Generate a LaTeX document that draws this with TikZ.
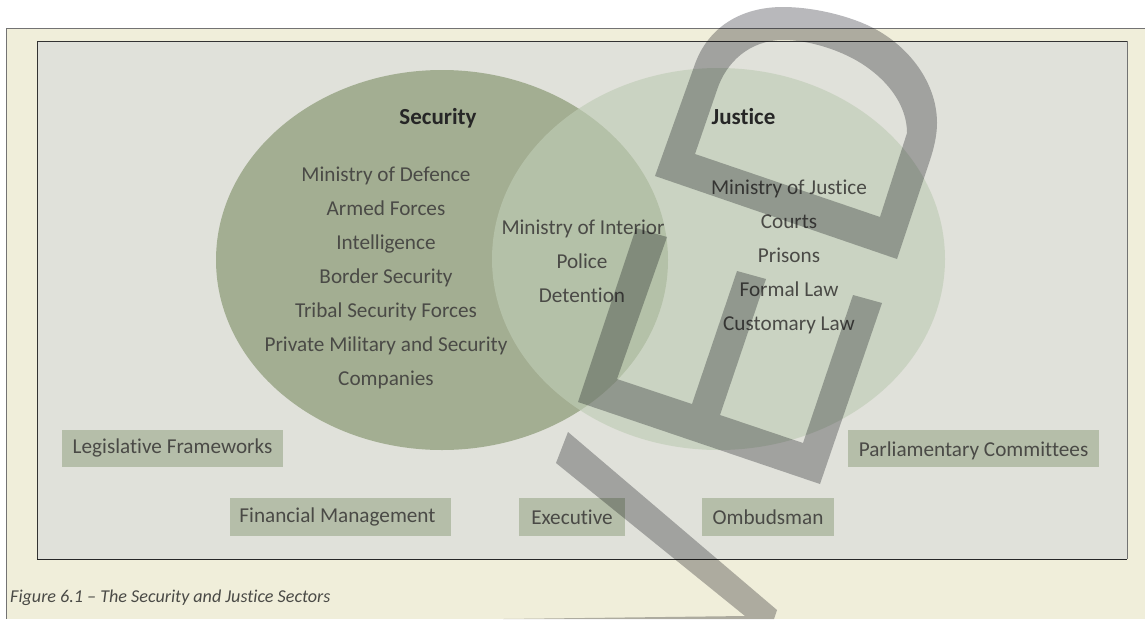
\documentclass[tikz,border=0pt]{standalone}
\usepackage{fontspec}
\setmainfont[Ligatures={TeX,NoCommon}]{Carlito}
\definecolor{pagebg}{HTML}{F0EEDA}
\definecolor{panelbg}{HTML}{E0E1DA}
\definecolor{secfill}{HTML}{A3AE92}
\definecolor{jusfill}{HTML}{BFCCB5}
\definecolor{boxfill}{HTML}{B5BEA9}
\definecolor{lockfill}{HTML}{B8B8BB}
\definecolor{txt}{HTML}{4A4A46}
\tikzset{
  lbl/.style={text=txt,font=\fontsize{21.2}{24}\selectfont,anchor=base,inner sep=0pt},
  head/.style={text=black!85,font=\fontsize{23}{26}\selectfont\bfseries,anchor=base,inner sep=0pt},
  tagbox/.style={fill=boxfill,draw=none,text=txt,font=\fontsize{21.2}{24}\selectfont,inner sep=0pt,text depth=4pt},
  lockpart/.style={fill=lockfill,draw=none}
}
\begin{document}
\begin{tikzpicture}[x=1pt,y=-1pt]
\useasboundingbox (0,0) rectangle (1145,619);
\fill[white] (0,0) rectangle (1145,619);
\fill[pagebg] (6,28) rectangle (1145,619);
\draw[black!55,line width=1pt] (6,619) -- (6,28) -- (1145,28);
\fill[panelbg] (37,41) rectangle (1127,559);
\draw[black!80,line width=.9pt] (37,559) -- (37,41) -- (1127,41);
\draw[black!55,line width=1pt] (1127,41) -- (1127,559);
\draw[black!85,line width=.9pt] (37,559) -- (1127,559);
% Venn
\fill[secfill] (442,260) ellipse [x radius=226,y radius=190];
\fill[jusfill,fill opacity=.64] (718.5,259) ellipse [x radius=226.5,y radius=191];
% tag boxes
\node[tagbox,text height=13pt,minimum width=221pt,minimum height=37pt] (t1) at (172.5,448.5) {Legislative Frameworks};
\node[tagbox,text height=14pt,minimum width=221pt,minimum height=38pt] (t2) at (340.5,517) {Financial Management\hspace*{6pt}};
\node[tagbox,text height=18pt,minimum width=106pt,minimum height=38pt] (t3) at (572,517) {Executive};
\node[tagbox,text height=18pt,minimum width=132pt,minimum height=38pt] (t4) at (768,517) {Ombudsman};
\node[tagbox,text height=19pt,minimum width=251pt,minimum height=37pt] (t5) at (973.5,448.5) {Parliamentary Committees};
% headings
\node[head] (sec) at (438,124) {Security};
\node[head] (jus) at (743.5,124) {Justice};
% security list
\node[lbl] (s1) at (386,181) {Ministry of Defence};
\node[lbl] (s2) at (386,215) {Armed Forces};
\node[lbl] (s3) at (386,249) {Intelligence};
\node[lbl] (s4) at (386,283) {Border Security};
\node[lbl] (s5) at (386,317) {Tribal Security Forces};
\node[lbl] (s6) at (386,351) {Private Military and Security};
\node[lbl] (s7) at (386,385) {Companies};
% overlap list
\node[lbl] (m1) at (583,234) {Ministry of Interior};
\node[lbl] (m2) at (582,268) {Police};
\node[lbl] (m3) at (582,302) {Detention};
% justice list
\node[lbl] (j1) at (789,194) {Ministry of Justice};
\node[lbl] (j2) at (789,228) {Courts};
\node[lbl] (j3) at (789,262) {Prisons};
\node[lbl] (j4) at (789,296) {Formal Law};
\node[lbl] (j5) at (789,330) {Customary Law};
% caption
\node[text=txt,font=\fontsize{18.1}{20}\selectfont\itshape,anchor=base west,inner sep=0pt] (cap) at (10,602) {Figure 6.1 – The Security and Justice Sectors};
\begin{scope}[blend mode=multiply]
% padlock shackle
\path[lockpart,even odd rule]
  (655,176) -- (695,64)
  .. controls (708,28) and (740,7) .. (783,7)
  .. controls (812,7) and (845,15) .. (867,25)
  .. controls (905,42) and (937,80) .. (937,123)
  .. controls (937,135) and (934,148) .. (930,160)
  -- (897,259) -- cycle
  (695,154) -- (717,90)
  .. controls (726,62) and (750,40) .. (783,40)
  .. controls (805,40) and (830,47) .. (850,57)
  .. controls (880,72) and (907,100) .. (907,133)
  -- (880,217) -- cycle;
% padlock base
\path[lockpart]
  (636,228) -- (667,237) -- (617,379) -- (692,404) -- (737,271) -- (766,279)
  -- (720,415) -- (803,443) -- (853,295) -- (882,303) -- (820,484) -- (578,402) -- cycle;
% diagonal stroke
\path[lockpart]
  (568,432) -- (777,610) -- (774,619) -- (503,619) -- (745,616) -- (556,463) -- cycle;
\end{scope}
\end{tikzpicture}
\end{document}
